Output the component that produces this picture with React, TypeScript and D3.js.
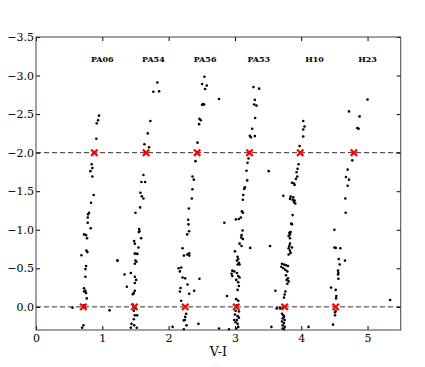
import React, { useRef, useEffect } from 'react';
import * as d3 from 'd3';

type Pt = [number, number];

// V-I colour, magnitude offset for each cluster
const pa06: Pt[] = [
  [0.95, -2.48], [0.936, -2.42], [0.916, -2.38], [0.91, -2.18], [0.84, -1.85], [0.85, -1.8],
  [0.82, -1.76], [0.85, -1.69], [0.87, -1.45], [0.83, -1.35], [0.8, -1.22], [0.785, -1.2],
  [0.78, -1.16], [0.78, -1.09], [0.825, -1.02], [0.725, -0.94], [0.755, -0.93], [0.77, -0.89],
  [0.76, -0.73], [0.775, -0.71], [0.685, -0.67], [0.755, -0.53], [0.745, -0.49], [0.745, -0.39],
  [1.23, -0.6], [0.725, -0.24], [0.745, -0.21], [0.725, -0.2], [0.755, -0.18], [0.765, -0.11],
  [0.55, 0.01], [1.11, 0.045], [0.72, -0.02], [0.74, 0.01], [0.715, 0.24], [0.695, 0.27],
];

const pa54: Pt[] = [
  [1.83, -2.91], [1.77, -2.79], [1.857, -2.795], [1.725, -2.41], [1.685, -2.25], [1.635, -2.11],
  [1.705, -2.07], [1.62, -1.71], [1.59, -1.62], [1.645, -1.62], [1.575, -1.48], [1.595, -1.435],
  [1.62, -1.405], [1.57, -1.29], [1.5, -1.22], [1.555, -1.01], [1.56, -0.98], [1.55, -0.97],
  [1.585, -0.89], [1.48, -0.855], [1.49, -0.82], [1.545, -0.77], [1.49, -0.69], [1.515, -0.69],
  [1.53, -0.685], [1.5, -0.6], [1.515, -0.585], [1.49, -0.56], [1.227, -0.6], [1.335, -0.42],
  [1.43, -0.44], [1.49, -0.39], [1.51, -0.35], [1.49, -0.31], [1.37, -0.26], [1.49, -0.21],
  [1.475, -0.18], [1.46, -0.165], [1.475, 0.05], [1.46, -0.03], [1.49, 0.11], [1.525, 0.11],
  [1.475, 0.16], [1.44, 0.22], [1.48, 0.24], [1.43, 0.27], [1.52, 0.27], [1.5, 0.02],
];

const pa56: Pt[] = [
  [2.54, -2.985], [2.505, -2.89], [2.575, -2.87], [2.55, -2.825], [2.52, -2.63], [2.505, -2.62],
  [2.535, -2.625], [2.76, -2.695], [2.465, -2.44], [2.485, -2.42], [2.46, -2.37], [2.435, -2.13],
  [2.405, -1.89], [2.36, -1.69], [2.38, -1.65], [2.36, -1.525], [2.35, -1.405], [2.305, -1.275],
  [2.295, -1.13], [2.3, -1.07], [2.31, -0.98], [2.28, -0.94], [2.21, -0.76], [2.23, -0.665],
  [2.28, -0.68], [2.31, -0.695], [2.31, -0.665], [2.15, -0.5], [2.19, -0.51], [2.17, -0.46],
  [2.21, -0.38], [2.25, -0.37], [2.465, -0.365], [2.285, -0.29], [2.18, -0.245], [2.17, -0.2],
  [2.31, -0.17], [2.385, -0.21], [2.19, -0.08], [2.265, 0.09], [2.25, 0.13], [2.23, 0.175],
  [2.245, 0.17], [2.27, 0.24], [2.45, 0.22], [2.06, 0.26], [2.23, 0.29], [2.76, 0.28],
];

const pa53: Pt[] = [
  [3.28, -2.85], [3.365, -2.83], [3.3, -2.685], [3.29, -2.625], [3.325, -2.61], [3.305, -2.45],
  [3.26, -2.31], [3.225, -2.22], [3.24, -2.2], [3.3, -2.215], [3.205, -1.925], [3.19, -1.87],
  [3.175, -1.765], [3.185, -1.64], [3.15, -1.55], [3.14, -1.53], [3.125, -1.45], [3.12, -1.39],
  [3.105, -1.24], [3.12, -1.22], [2.84, -1.09], [3.015, -1.135], [3.06, -1.14], [3.09, -1.16],
  [3.115, -0.99], [3.1, -0.93], [3.095, -0.9], [3.12, -0.88], [3.07, -0.82], [3.1, -0.79],
  [3.23, -0.765], [3.0, -0.72], [3.04, -0.65], [3.05, -0.62], [3.03, -0.6], [3.06, -0.57],
  [3.07, -0.55], [3.04, -0.55], [2.96, -0.47], [2.99, -0.46], [2.95, -0.43], [2.96, -0.4],
  [3.03, -0.44], [3.05, -0.4], [3.07, -0.38], [3.02, -0.35], [3.05, -0.32], [3.06, -0.27],
  [3.04, -0.22], [2.88, -0.14], [3.02, -0.1], [3.05, -0.08], [3.01, 0.05], [3.06, 0.06],
  [3.0, 0.1], [3.04, 0.12], [3.06, 0.14], [2.99, 0.17], [3.03, 0.17], [3.01, 0.2],
  [3.04, 0.22], [2.91, 0.29], [3.02, 0.28], [3.05, 0.26], [3.03, -0.02],
];

const h10: Pt[] = [
  [4.03, -2.41], [4.05, -2.34], [4.03, -2.3], [4.03, -2.21], [3.975, -2.085], [3.51, -1.76],
  [3.96, -1.85], [3.945, -1.79], [3.93, -1.745], [3.94, -1.69], [3.92, -1.66], [3.89, -1.6],
  [3.9, -1.58], [3.86, -1.61], [3.73, -1.44], [3.84, -1.43], [3.88, -1.42], [3.83, -1.4],
  [3.87, -1.39], [3.9, -1.38], [3.89, -1.36], [3.91, -1.34], [3.87, -1.19], [3.85, -1.08],
  [3.86, -1.07], [3.84, -0.97], [3.82, -0.96], [3.83, -0.94], [3.81, -0.92], [3.83, -0.89],
  [3.53, -0.79], [3.83, -0.82], [3.82, -0.79], [3.86, -0.77], [3.81, -0.76], [3.83, -0.73],
  [3.84, -0.7], [3.81, -0.68], [3.71, -0.56], [3.74, -0.55], [3.77, -0.54], [3.8, -0.53],
  [3.7, -0.52], [3.73, -0.5], [3.76, -0.48], [3.79, -0.46], [3.77, -0.41], [3.8, -0.37],
  [3.78, -0.35], [3.81, -0.33], [3.79, -0.3], [3.61, -0.21], [3.76, -0.2], [3.75, -0.16],
  [3.74, -0.12], [3.63, 0.02], [3.68, 0.02], [3.72, 0.01], [3.71, 0.09], [3.73, 0.11],
  [3.74, 0.13], [3.72, 0.15], [3.75, 0.17], [3.71, 0.19], [3.74, 0.21], [3.72, 0.24],
  [3.75, 0.26], [3.72, 0.28], [3.74, 0.29], [3.55, 0.26], [4.11, 0.26],
];

const h23: Pt[] = [
  [5.0, -2.69], [4.72, -2.535], [4.88, -2.47], [4.845, -2.32], [4.865, -2.31], [4.77, -1.9],
  [4.7, -1.78], [4.675, -1.685], [4.72, -1.65], [4.7, -1.57], [4.665, -1.405], [4.67, -1.22],
  [4.5, -1.0], [4.5, -0.77], [4.52, -0.765], [4.59, -0.76], [4.565, -0.62], [4.66, -0.6],
  [4.58, -0.55], [4.555, -0.47], [4.56, -0.44], [4.555, -0.42], [4.56, -0.365], [4.45, -0.25],
  [4.52, -0.22], [4.53, -0.14], [4.525, -0.11], [5.34, -0.09], [4.52, 0.05], [4.51, 0.07],
  [4.51, 0.11], [4.48, 0.23],
];

const clusterNames = ['PA06', 'PA54', 'PA56', 'PA53', 'H10', 'H23'];
const labelX = [1.0, 1.77, 2.55, 3.36, 4.2, 5.0];
const labelY = -3.21;
const refLevels = [0.0, -2.0];
const lowerRefX = [0.714, 1.484, 2.25, 3.02, 3.75, 4.52];
const upperRefX = [0.88, 1.66, 2.43, 3.22, 3.985, 4.795];

const xTicks = [0, 1, 2, 3, 4, 5];
const yTicks = [-3.5, -3.0, -2.5, -2.0, -1.5, -1.0, -0.5, 0.0];

const W = 425;
const H = 367;
const margin = { top: 37, right: 24.3, bottom: 37, left: 36 };
const FONT = '"DejaVu Serif", serif';

export default function App() {
  const svgRef = useRef<SVGSVGElement>(null);

  useEffect(() => {
    const svg = d3.select(svgRef.current);
    svg.selectAll('*').remove();

    const x = d3.scaleLinear().domain([0, 5.5]).range([margin.left, W - margin.right]);
    const y = d3.scaleLinear().domain([-3.5, 0.3]).range([margin.top, H - margin.bottom]);
    const [x0, x1] = x.range();
    const [y0, y1] = y.range();

    // reference lines
    svg.append('g')
      .selectAll('line')
      .data(refLevels)
      .join('line')
      .attr('x1', x0).attr('x2', x1)
      .attr('y1', d => y(d)).attr('y2', d => y(d))
      .attr('stroke', '#333')
      .attr('stroke-width', 1)
      .attr('stroke-dasharray', '5,3');

    // stars
    const all = [pa06, pa54, pa56, pa53, h10, h23].flat();
    svg.append('g')
      .selectAll('circle')
      .data(all)
      .join('circle')
      .attr('cx', d => x(d[0]))
      .attr('cy', d => y(d[1]))
      .attr('r', 1.3)
      .attr('fill', '#000');

    // red crosses at reference points
    const refs: Pt[] = [
      ...lowerRefX.map(v => [v, refLevels[0]] as Pt),
      ...upperRefX.map(v => [v, refLevels[1]] as Pt),
    ];
    const s = 3.2;
    svg.append('g')
      .selectAll('path')
      .data(refs)
      .join('path')
      .attr('d', d => {
        const cx = x(d[0]);
        const cy = y(d[1]);
        return `M${cx - s},${cy - s}L${cx + s},${cy + s}M${cx - s},${cy + s}L${cx + s},${cy - s}`;
      })
      .attr('stroke', '#ff0000')
      .attr('stroke-width', 2.2)
      .attr('fill', 'none');

    // cluster names
    svg.append('g')
      .selectAll('text')
      .data(clusterNames)
      .join('text')
      .attr('x', (d, i) => x(labelX[i]))
      .attr('y', y(labelY))
      .attr('dy', '0.35em')
      .attr('text-anchor', 'middle')
      .attr('font-family', FONT)
      .attr('font-weight', 'bold')
      .attr('font-size', 8)
      .text(d => d);

    // axes with inward ticks on all sides
    const fmt = d3.format('.1f');
    const styleAxis = (g: any) => {
      g.select('.domain').remove();
      g.attr('font-family', FONT).attr('font-size', 11);
      g.selectAll('line').attr('stroke', '#000');
      g.selectAll('text').attr('fill', '#000');
    };

    svg.append('g')
      .attr('transform', `translate(0,${y1})`)
      .call(d3.axisBottom(x).tickValues(xTicks).tickFormat(d3.format('d')).tickSize(-4).tickPadding(4))
      .call(styleAxis);
    svg.append('g')
      .attr('transform', `translate(0,${y0})`)
      .call(d3.axisTop(x).tickValues(xTicks).tickFormat(() => '').tickSize(-4))
      .call(styleAxis);
    svg.append('g')
      .attr('transform', `translate(${x0},0)`)
      .call(d3.axisLeft(y).tickValues(yTicks).tickFormat(fmt).tickSize(-4).tickPadding(2))
      .call(styleAxis);
    svg.append('g')
      .attr('transform', `translate(${x1},0)`)
      .call(d3.axisRight(y).tickValues(yTicks).tickFormat(() => '').tickSize(-4))
      .call(styleAxis);

    // frame
    svg.append('rect')
      .attr('x', x0).attr('y', y0)
      .attr('width', x1 - x0).attr('height', y1 - y0)
      .attr('fill', 'none')
      .attr('stroke', '#444')
      .attr('stroke-width', 1);

    // x label
    svg.append('text')
      .attr('x', (x0 + x1) / 2)
      .attr('y', y1 + 26)
      .attr('text-anchor', 'middle')
      .attr('font-family', FONT)
      .attr('font-size', 12.5)
      .text('V-I');
  }, []);

  return (
    <svg
      ref={svgRef}
      width={W}
      height={H}
      style={{ position: 'absolute', left: 0, top: 0, background: '#fff' }}
    />
  );
}
